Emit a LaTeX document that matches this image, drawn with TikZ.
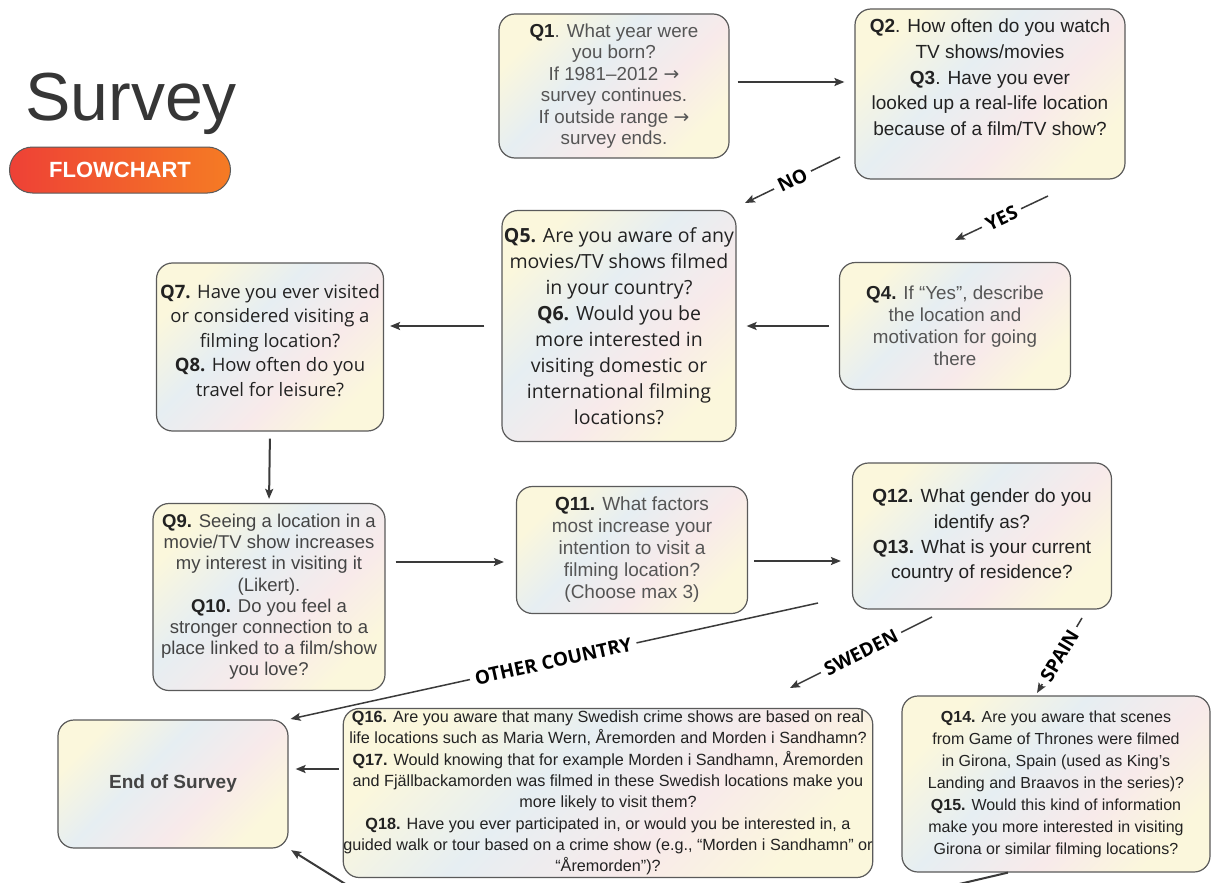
\documentclass[tikz,border=0pt]{standalone}
\usepackage{fontspec}
\setmainfont{Liberation Sans}
\newfontfamily\canva{Open Sans}
\newfontfamily\symfont{DejaVu Sans}
\usetikzlibrary{arrows.meta, positioning}
\definecolor{pastelyellow}{HTML}{FBF7DC}
\definecolor{pastelblue}{HTML}{E6EEF2}
\definecolor{pastelpink}{HTML}{F8EAEA}
\definecolor{boxgray}{HTML}{5A5A5A}
\definecolor{arrowgray}{HTML}{3A3A3A}
\definecolor{titlegray}{HTML}{363636}
\definecolor{softgray}{HTML}{555555}
\definecolor{midgray}{HTML}{444444}
\definecolor{darktext}{HTML}{222222}
\definecolor{pillred}{HTML}{EE4136}
\definecolor{pillorange}{HTML}{F57B24}
\pgfdeclarehorizontalshading{pastel}{100bp}{color(0bp)=(pastelyellow); color(25bp)=(pastelyellow);
  color(42bp)=(pastelblue); color(60bp)=(pastelpink); color(75bp)=(pastelyellow); color(100bp)=(pastelyellow)}
\newcommand{\qnum}[1]{\textbf{\color{darktext}#1}}
\newcommand{\rarr}{{\symfont →}}

\begin{document}
\begin{tikzpicture}[
  x=1pt, y=-1pt,
  >={Stealth[length=10pt, width=8pt, inset=2pt]},
  qbox/.style={rectangle, rounded corners=16pt, draw=boxgray, line width=1.2pt,
    shade, shading=pastel, shading angle=-45, align=center, inner sep=0pt},
  pill/.style={rectangle, rounded corners=23pt, draw=boxgray, line width=1pt,
    left color=pillred, right color=pillorange, text=white,
    font=\bfseries\fontsize{22}{22}\selectfont},
  arr/.style={->, line width=2pt, draw=arrowgray},
  branch/.style={->, line width=1.5pt, draw=arrowgray},
  blabel/.style={sloped, fill=white, inner sep=5pt, text=black,
    font=\canva\bfseries\fontsize{19}{19}\selectfont}
]
\fill[white] (0,0) rectangle (1216,883);
\useasboundingbox (0,0) rectangle (1216,883);
\clip (0,0) rectangle (1216,883);

% ---- Title ----
\node[font=\fontsize{68}{68}\selectfont, text=titlegray, anchor=base west, inner sep=0pt]
  (title) at (25,120) {Survey};
\node[pill, minimum width=221pt, minimum height=46pt] (tag) at (120,170) {FLOWCHART};

% ---- Screening ----
\node[qbox, minimum width=230pt, minimum height=144pt, text=softgray,
  font=\fontsize{18.8}{21.5}\selectfont] (q1) at (614,86)
  {\qnum{Q1}. What year were\\you born?\\If 1981–2012 \rarr\\survey continues.\\If outside range \rarr\\survey ends.};

\node[qbox, minimum width=270pt, minimum height=170pt, text=darktext,
  font=\fontsize{19}{25.7}\selectfont] (q2) at (990,94)
  {\qnum{Q2}. How often do you watch\\TV shows/movies\\\qnum{Q3}. Have you ever\\looked up a real-life location\\because of a film/TV show?\\[8pt]~};

\node[qbox, minimum width=231pt, minimum height=127pt, text=softgray,
  font=\fontsize{18.8}{22}\selectfont] (q4) at (955,326)
  {\qnum{Q4.} If “Yes”, describe\\the location and\\motivation for going\\there};

\node[qbox, minimum width=234pt, minimum height=231pt, text=darktext,
  font=\canva\fontsize{19.5}{26}\selectfont] (q5) at (619,326)
  {\qnum{Q5.} Are you aware of any\\movies/TV shows filmed\\in your country?\\\qnum{Q6.} Would you be\\more interested in\\visiting domestic or\\international filming\\locations?};

\node[qbox, minimum width=227pt, minimum height=168pt, text=darktext,
  font=\canva\fontsize{18.5}{24.5}\selectfont] (q7) at (270,347)
  {\qnum{Q7.} Have you ever visited\\or considered visiting a\\filming location?\\\qnum{Q8.} How often do you\\travel for leisure?\\[-11pt]~};

% ---- Motivation ----
\node[qbox, minimum width=232pt, minimum height=187pt, text=midgray,
  font=\fontsize{18.5}{21.2}\selectfont] (q9) at (269,597)
  {\qnum{Q9.} Seeing a location in a\\movie/TV show increases\\my interest in visiting it\\(Likert).\\\qnum{Q10.} Do you feel a\\stronger connection to a\\place linked to a film/show\\you love?};

\node[qbox, minimum width=231pt, minimum height=127pt, text=softgray,
  font=\fontsize{19}{22}\selectfont] (q11) at (632,550)
  {\qnum{Q11.} What factors\\most increase your\\intention to visit a\\filming location?\\(Choose max 3)};

\node[qbox, minimum width=259pt, minimum height=146pt, text=darktext,
  font=\fontsize{19}{25.3}\selectfont] (q12) at (982,536)
  {\qnum{Q12.} What gender do you\\identify as?\\\qnum{Q13.} What is your current\\country of residence?};

% ---- Country branches ----
\node[qbox, minimum width=230pt, minimum height=128pt, text=midgray,
  font=\bfseries\fontsize{19}{19}\selectfont] (end) at (173,784) {End of Survey};

\node[qbox, minimum width=528pt, minimum height=169pt, text=darktext,
  font=\fontsize{16.2}{21.3}\selectfont] (q16) at (608,793)
  {\qnum{Q16.} Are you aware that many Swedish crime shows are based on real\\life locations such as Maria Wern, Åremorden and Morden i Sandhamn?\\\qnum{Q17.} Would knowing that for example Morden i Sandhamn, Åremorden\\and Fjällbackamorden was filmed in these Swedish locations make you\\more likely to visit them?\\\qnum{Q18.} Have you ever participated in, or would you be interested in, a\\guided walk or tour based on a crime show (e.g., “Morden i Sandhamn" or\\“Åremorden")?};

\node[qbox, minimum width=308pt, minimum height=176pt, text=darktext,
  font=\fontsize{16}{22}\selectfont] (q14) at (1056,784)
  {\qnum{Q14.} Are you aware that scenes\\from Game of Thrones were filmed\\in Girona, Spain (used as King's\\Landing and Braavos in the series)?\\\qnum{Q15.} Would this kind of information\\make you more interested in visiting\\Girona or similar filming locations?};

% ---- Free ends of the branch lines ----
\coordinate (noA) at (840,157);
\coordinate (noB) at (745,203);
\coordinate (yesA) at (1048,196);
\coordinate (yesB) at (955,240);
\coordinate (otherA) at (818,603);
\coordinate (swedenA) at (932,617);
\coordinate (swedenB) at (790,688);
\coordinate (spainA) at (1082,618);
\coordinate (spainB) at (1037,693);
\coordinate (tourA) at (355,890);
\coordinate (gironaB) at (925,892);

% ---- Straight arrows ----
\draw[arr, shorten <=8pt, shorten >=10pt] ([yshift=4pt]q1.east) -- ([yshift=4pt]q1.east -| q2.west);
\draw[arr, shorten <=10pt, shorten >=10pt] (q4.west) -- (q5.east);
\draw[arr, shorten <=17pt, shorten >=6pt] (q5.west) -- (q5.west -| q7.east);
\draw[arr, shorten <=7pt, shorten >=4pt] (q7.south) -- (q9.north);
\draw[arr, shorten <=10pt, shorten >=12pt] ([yshift=-12pt]q11.west -| q9.east) -- ([yshift=-12pt]q11.west);
\draw[arr, shorten <=6pt, shorten >=11pt] ([yshift=-11pt]q11.east) -- ([yshift=-11pt]q11.east -| q12.west);
\draw[arr, shorten <=4pt, shorten >=7pt] ([yshift=24pt]q16.west) -- ([yshift=24pt]q16.west -| end.east);
\draw[arr, shorten >=3pt] (tourA) -- (end.south east);
\draw[line width=2pt, draw=arrowgray] ([xshift=-48pt]q14.south) -- (gironaB);

% ---- Labelled branches ----
\draw[branch] (noA) -- node[blabel] {NO} (noB);
\draw[branch] (yesA) -- node[blabel] {YES} (yesB);
\draw[branch, shorten >=2pt] (otherA) -- node[blabel] {OTHER COUNTRY} (end.north east);
\draw[branch] (swedenA) -- node[blabel] {SWEDEN} (swedenB);
\draw[branch] (spainA) -- node[blabel] {SPAIN} (spainB);

\end{tikzpicture}
\end{document}
